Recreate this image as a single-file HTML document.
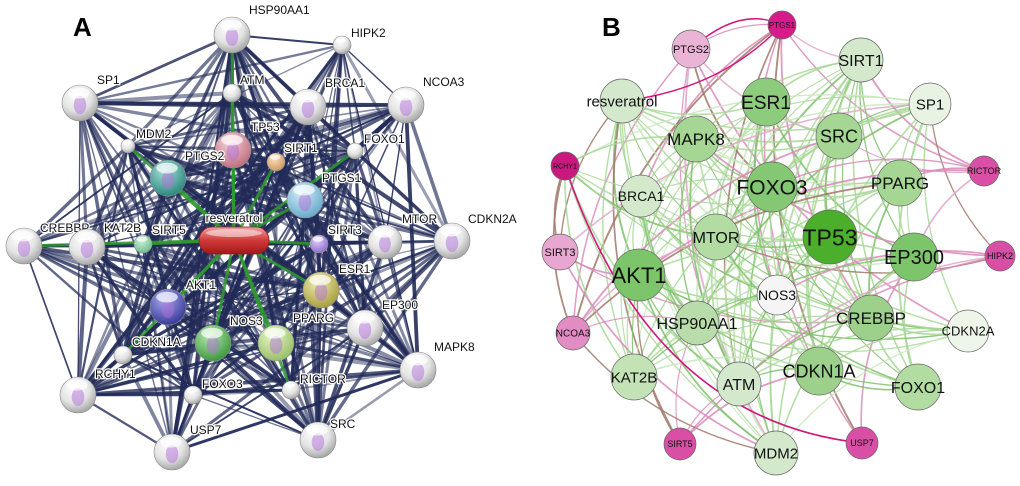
<!DOCTYPE html>
<html><head><meta charset="utf-8"><style>
html,body{margin:0;padding:0;background:#fff;width:1020px;height:486px;overflow:hidden}
svg{display:block}
text{font-family:"Liberation Sans",sans-serif}
</style></head><body>
<svg id="s" width="1020" height="486" viewBox="0 0 1020 486" xmlns="http://www.w3.org/2000/svg">
<defs>
<radialGradient id="gw" cx="40%" cy="30%" r="70%"><stop offset="0" stop-color="#ffffff"/><stop offset="0.6" stop-color="#e4e4e4"/><stop offset="1" stop-color="#a8a8a8"/></radialGradient>
<radialGradient id="gp" cx="40%" cy="30%" r="70%"><stop offset="0" stop-color="#f6d2d8"/><stop offset="1" stop-color="#c07080"/></radialGradient>
<radialGradient id="gt" cx="40%" cy="30%" r="70%"><stop offset="0" stop-color="#a8e0d8"/><stop offset="1" stop-color="#2e8a80"/></radialGradient>
<radialGradient id="gb" cx="40%" cy="30%" r="70%"><stop offset="0" stop-color="#d4ecf8"/><stop offset="1" stop-color="#6aaccc"/></radialGradient>
<radialGradient id="gn" cx="40%" cy="30%" r="70%"><stop offset="0" stop-color="#a8a8f0"/><stop offset="1" stop-color="#3a3c9a"/></radialGradient>
<radialGradient id="gg" cx="40%" cy="30%" r="70%"><stop offset="0" stop-color="#b8e8b0"/><stop offset="1" stop-color="#3e9a3e"/></radialGradient>
<radialGradient id="gl" cx="40%" cy="30%" r="70%"><stop offset="0" stop-color="#eaf8c8"/><stop offset="1" stop-color="#98c068"/></radialGradient>
<radialGradient id="gy" cx="40%" cy="30%" r="70%"><stop offset="0" stop-color="#f0ecb0"/><stop offset="1" stop-color="#a8a040"/></radialGradient>
<radialGradient id="go" cx="40%" cy="30%" r="70%"><stop offset="0" stop-color="#fbe0c0"/><stop offset="1" stop-color="#d09a60"/></radialGradient>
<radialGradient id="gm" cx="40%" cy="30%" r="70%"><stop offset="0" stop-color="#d0f0dc"/><stop offset="1" stop-color="#70c090"/></radialGradient>
<radialGradient id="gv" cx="40%" cy="30%" r="70%"><stop offset="0" stop-color="#e0d0fa"/><stop offset="1" stop-color="#9070d0"/></radialGradient>
<linearGradient id="gr" x1="0" y1="0" x2="0" y2="1"><stop offset="0" stop-color="#f0a0a0"/><stop offset="0.5" stop-color="#d03838"/><stop offset="1" stop-color="#a01818"/></linearGradient>
</defs>
<g id="ea"></g><g id="na"></g>
<g id="eb" fill="none"></g><g id="nb"></g>
<text x="73" y="36" font-size="26" font-weight="bold">A</text>
<text x="602" y="36" font-size="26" font-weight="bold">B</text>
</svg>
<script>
var NS="http://www.w3.org/2000/svg";
function el(p,t,a,txt){var e=document.createElementNS(NS,t);for(var k in a)e.setAttribute(k,a[k]);if(txt!=null)e.textContent=txt;p.appendChild(e);return e;}
var ea=document.getElementById('ea'),na=document.getElementById('na'),eb=document.getElementById('eb'),nb=document.getElementById('nb');
var A=[["HSP90AA1",232,35,18,"gw",249,14],["HIPK2",342,45,9,"gw",351,37],["SP1",80,103,18,"gw",97,84],["ATM",232,93,9,"gw",240,84],
["BRCA1",308,107,18,"gw",325,87],["NCOA3",406,105,18,"gw",423,86],["MDM2",128,146,7,"gw",136,138],["TP53",233,150,18,"gp",251,131],
["SIRT1",276,162,9,"go",284,152],["FOXO1",355,151,8,"gw",364,143],["PTGS2",168,178,18,"gt",185,160],["PTGS1",305,200,18,"gb",322,182],
["CREBBP",24,246,18,"gw",40,232],["KAT2B",87,247,18,"gw",104,232],["SIRT5",143,244,9,"gm",152,234],["SIRT3",319,244,9,"gv",328,234],
["MTOR",385,242,17,"gw",402,223],["CDKN2A",452,241,18,"gw",468,223],["ESR1",321,290,18,"gy",339,273],["AKT1",168,307,18,"gn",186,289],
["NOS3",213,343,18,"gg",230,325],["PPARG",276,343,18,"gl",293,322],["EP300",365,328,18,"gw",382,309],["MAPK8",418,370,18,"gw",434,351],
["CDKN1A",123,355,9,"gw",132,346],["RCHY1",78,395,18,"gw",95,378],["FOXO3",193,395,9,"gw",202,388],["RICTOR",291,390,9,"gw",300,383],
["USP7",172,452,18,"gw",190,434],["SRC",318,440,18,"gw",330,428]];
var R=[234,240];
var seed=7;function rnd(){seed=(seed*16807)%2147483647;return seed/2147483647;}
for(var i=0;i<A.length;i++)for(var j=i+1;j<A.length;j++){var p=rnd();if(p<0.74){el(ea,'line',{x1:A[i][1],y1:A[i][2],x2:A[j][1],y2:A[j][2],stroke:'#222b58','stroke-opacity':(0.45+rnd()*0.5).toFixed(2),'stroke-width':(1.2+rnd()*3).toFixed(1)});}}
for(var i=0;i<A.length;i++){if(A[i][4]!="gw"||i%3==0)el(ea,'line',{x1:R[0],y1:R[1],x2:A[i][1],y2:A[i][2],stroke:'#2e9a2e','stroke-width':3,'stroke-opacity':0.85});}
A.forEach(function(n){el(na,'circle',{cx:n[1],cy:n[2],r:n[3],fill:'url(#'+n[4]+')',stroke:'#8a8a8a','stroke-width':0.6});
 if(n[3]>12)el(na,'ellipse',{cx:n[1],cy:n[2]+2,rx:n[3]*0.35,ry:n[3]*0.5,fill:'#b070d8','fill-opacity':0.5});
 el(na,'ellipse',{cx:n[1]-1,cy:n[2]-n[3]*0.55,rx:n[3]*0.6,ry:n[3]*0.3,fill:'#fff','fill-opacity':0.7});
 el(na,'text',{x:n[5],y:n[6],'font-size':12,fill:'#111',stroke:'#fff','stroke-width':2.5,'paint-order':'stroke'},n[0]);});
el(na,'rect',{x:199,y:227,width:70,height:27,rx:13,fill:'url(#gr)',stroke:'#8a2020','stroke-width':0.8});
el(na,'ellipse',{cx:234,cy:233,rx:28,ry:4,fill:'#fff','fill-opacity':0.5});
el(na,'text',{x:234,y:222,'font-size':12,'text-anchor':'middle',fill:'#111',stroke:'#fff','stroke-width':2.5,'paint-order':'stroke'},"resveratrol");
var B=[["PTGS1",782,25,14,"#d81b8a",8],["PTGS2",691,49,19,"#eab4d6",11],["SIRT1",861,60,22,"#d4e9cc",16],["resveratrol",622,101,22,"#d4e9cc",15],
["ESR1",766,102,24,"#8dcc7d",19],["SP1",930,104,21,"#e8f3e3",15],["MAPK8",696,139,23,"#a6d694",17],["SRC",839,136,23,"#a6d694",18],
["RCHY1",565,166,14,"#c9197e",7],["RICTOR",984,171,15,"#d94fa5",9],["FOXO3",772,187,25,"#85c873",21],["PPARG",900,183,23,"#a6d694",17],
["BRCA1",641,196,21,"#d4e9cc",14],["MTOR",716,237,23,"#b2dca2",16],["TP53",830,237,27,"#4caf2b",23],["EP300",914,257,24,"#7dc56a",20],
["SIRT3",560,252,18,"#e8a7d0",11],["HIPK2",1000,256,15,"#d94fa5",9],["AKT1",639,275,26,"#7dc56a",22],["NOS3",777,295,20,"#f5f5f5",14],
["HSP90AA1",697,323,22,"#b8ddaa",16],["CREBBP",871,318,23,"#9dd18b",17],["CDKN2A",968,331,21,"#eef6ea",13],["NCOA3",573,333,17,"#e28cc4",10],
["CDKN1A",819,371,24,"#9dd18b",18],["KAT2B",634,377,23,"#c3e2b6",15],["ATM",739,384,22,"#d4e9cc",16],["FOXO1",918,387,23,"#b2dca2",16],
["SIRT5",680,444,16,"#d94fa5",9],["USP7",862,443,16,"#d94fa5",9],["MDM2",776,453,22,"#d4e9cc",15]];
seed=11;
for(var i=0;i<B.length;i++)for(var j=i+1;j<B.length;j++){
 var pink=(B[i][3]<20&&(B[i][4].indexOf('#d')==0||B[i][4].indexOf('#e')==0))||(B[j][3]<20&&(B[j][4].indexOf('#d')==0||B[j][4].indexOf('#e')==0));
 var p=rnd(); if(p>(pink?0.2:0.58))continue;
 var x1=B[i][1],y1=B[i][2],x2=B[j][1],y2=B[j][2],mx=(x1+x2)/2,my=(y1+y2)/2,dx=x2-x1,dy=y2-y1,b=0.18;
 var c;var q=rnd(); if(pink)c=q<0.5?'#d98ab8':(q<0.8?'#a07868':'#e0a8c8'); else c=q<0.6?'#a8d898':(q<0.85?'#7cc068':'#c8e8bc');
 el(eb,'path',{d:'M'+x1+' '+y1+' Q'+(mx-dy*b)+' '+(my+dx*b)+' '+x2+' '+y2,stroke:c,'stroke-width':(1+rnd()*0.9).toFixed(1),'stroke-opacity':0.85});}
el(eb,'path',{d:'M565 166 Q650 420 862 443',stroke:'#d4147a','stroke-width':1.6});
el(eb,'path',{d:'M691 49 Q740 5 782 25',stroke:'#d4147a','stroke-width':1.4});
el(eb,'path',{d:'M622 101 Q720 90 782 25',stroke:'#d4147a','stroke-width':1.4});
B.forEach(function(n){el(nb,'circle',{cx:n[1],cy:n[2],r:n[3],fill:n[4],stroke:'#666','stroke-width':0.7});
 el(nb,'text',{x:n[1],y:n[2]+n[5]*0.36,'font-size':n[5],'text-anchor':'middle',fill:'#111'},n[0]);});
</script>
</body></html>
